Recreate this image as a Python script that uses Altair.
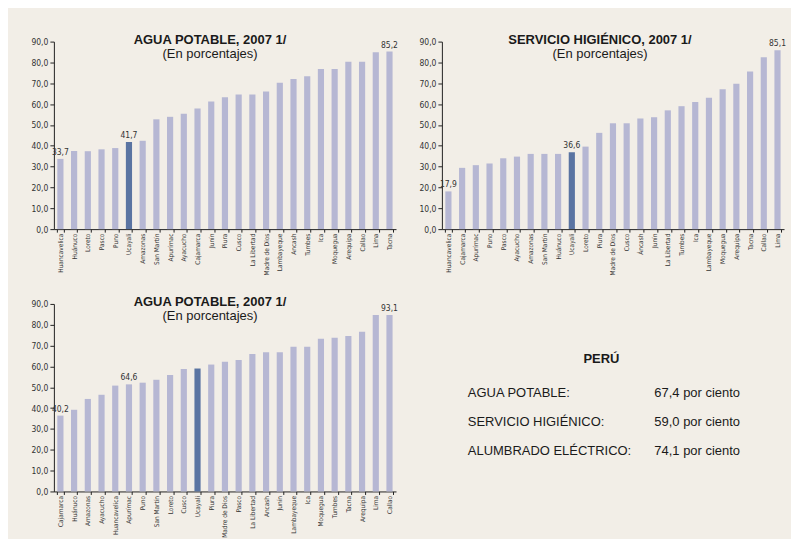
import altair as alt
import pandas as pd

# ---------------- data ----------------
agua_regions = ["Huancavelica", "Huánuco", "Loreto", "Pasco", "Puno", "Ucayali", "Amazonas",
                "San Martín", "Apurímac", "Ayacucho", "Cajamarca", "Junín", "Piura", "Cusco",
                "La Libertad", "Madre de Dios", "Lambayeque", "Ancash", "Tumbes", "Ica",
                "Moquegua", "Arequipa", "Callao", "Lima", "Tacna"]
agua_values = [33.7, 37.5, 37.4, 38.3, 38.9, 41.8, 42.4, 52.7, 53.9, 55.4, 57.9, 61.3, 63.3,
               64.6, 64.6, 66.1, 70.2, 72.1, 73.4, 76.9, 76.9, 80.3, 80.3, 84.9, 85.2]
agua_labels = {"Huancavelica": "33,7", "Ucayali": "41,7", "Tacna": "85,2"}

serv_regions = ["Huancavelica", "Cajamarca", "Apurímac", "Puno", "Pasco", "Ayacucho", "Amazonas",
                "San Martín", "Huánuco", "Ucayali", "Loreto", "Piura", "Madre de Dios", "Cusco",
                "Áncash", "Junín", "La Libertad", "Tumbes", "Ica", "Lambayeque", "Moquegua",
                "Arequipa", "Tacna", "Callao", "Lima"]
serv_values = [18.1, 29.4, 30.7, 31.5, 34.0, 34.8, 36.1, 36.1, 36.1, 36.9, 39.6, 46.2, 50.8,
               50.8, 53.1, 53.7, 57.0, 59.0, 61.0, 63.1, 67.1, 69.8, 75.7, 82.5, 85.8]
serv_labels = {"Huancavelica": "17,9", "Ucayali": "36,6", "Lima": "85,1"}

alum_regions = ["Cajamarca", "Huánuco", "Amazonas", "Ayacucho", "Huancavelica", "Apurímac", "Puno",
                "San Martín", "Loreto", "Cusco", "Ucayali", "Piura", "Madre de Dios", "Pasco",
                "La Libertad", "Ancash", "Junín", "Lambayeque", "Ica", "Moquegua", "Tumbes",
                "Tacna", "Arequipa", "Lima", "Callao"]
alum_values = [36.4, 39.2, 44.4, 46.4, 50.8, 51.4, 52.2, 53.6, 55.9, 58.8, 59.0, 60.9, 62.3,
               63.1, 66.0, 66.8, 66.8, 69.5, 69.5, 73.3, 73.8, 74.6, 76.7, 84.7, 84.7]
alum_labels = {"Cajamarca": "40,2", "Apurímac": "64,6", "Callao": "93,1"}

peru_items = ["AGUA POTABLE:", "SERVICIO HIGIÉNICO:", "ALUMBRADO ELÉCTRICO:"]
peru_values = ["67,4 por ciento", "59,0 por ciento", "74,1 por ciento"]

HIGHLIGHT = "Ucayali"
BG = "#f2eee7"
LIGHT = "#b6b7d3"
DARK = "#5a74a2"
NARROW = "Liberation Sans Narrow, Arial Narrow, DejaVu Sans Condensed, sans-serif"
SANS = "Liberation Sans, Arial, sans-serif"


def bar_panel(regions, values, labels, title, title_dx):
    df = pd.DataFrame({
        "region": regions,
        "value": values,
        "hl": ["h" if r == HIGHLIGHT else "n" for r in regions],
        "label": [labels.get(r, "") for r in regions],
    })
    x = alt.X("region:N", sort=regions, title=None,
              scale=alt.Scale(paddingInner=0.55, paddingOuter=0.25),
              axis=alt.Axis(labelAngle=-90, labelFont=NARROW, labelFontSize=6.5,
                            labelColor="#333333", tickBand="extent", tickSize=3,
                            tickColor="#222222", domainColor="#222222", labelPadding=1))
    y = alt.Y("value:Q", title=None,
              scale=alt.Scale(domain=[0, 90], nice=False),
              axis=alt.Axis(values=list(range(0, 91, 10)), grid=False,
                            labelExpr="replace(format(datum.value, '.1f'), '.', ',')",
                            labelFont=NARROW, labelFontSize=8.5, labelColor="#333333",
                            tickSize=4, tickColor="#222222", domainColor="#222222",
                            labelPadding=2))
    bars = alt.Chart(df).mark_bar().encode(
        x=x, y=y,
        color=alt.Color("hl:N", scale=alt.Scale(domain=["n", "h"], range=[LIGHT, DARK]),
                        legend=None),
    )
    text = alt.Chart(df).transform_filter("datum.label != ''").mark_text(
        baseline="bottom", dy=-2, font=NARROW, fontSize=8.5, color="#333333"
    ).encode(x=x, y=y, text="label:N")
    return alt.layer(bars, text).properties(
        width=343, height=188,
        title=alt.Title(title, subtitle="(En porcentajes)", anchor="middle", dx=title_dx,
                        offset=-23, font=SANS, fontSize=13, fontWeight="bold",
                        color="#1a1a1a", subtitleFont=SANS, subtitleFontSize=13,
                        subtitleColor="#1a1a1a", subtitlePadding=1),
    )


c1 = bar_panel(agua_regions, agua_values, agua_labels, "AGUA POTABLE, 2007 1/", -15)
c2 = bar_panel(serv_regions, serv_values, serv_labels, "SERVICIO HIGIÉNICO, 2007 1/", -13)
c3 = bar_panel(alum_regions, alum_values, alum_labels, "AGUA POTABLE, 2007 1/", -15)

pdf = pd.DataFrame({"item": peru_items, "val": peru_values})
ys = alt.Y("item:N", sort=peru_items, axis=None,
           scale=alt.Scale(type="point", range=[89, 147], padding=0))
t_items = alt.Chart(pdf).mark_text(align="left", baseline="middle", font=SANS,
                                   fontSize=13, color="#1a1a1a").encode(
    x=alt.value(50), y=ys, text="item:N")
t_vals = alt.Chart(pdf).mark_text(align="left", baseline="middle", font=SANS,
                                  fontSize=13, color="#1a1a1a").encode(
    x=alt.value(237), y=ys, text="val:N")
panel = alt.layer(t_items, t_vals).properties(
    width=342, height=188,
    title=alt.Title("PERÚ", anchor="middle", offset=-62, font=SANS, fontSize=13,
                    fontWeight="bold", color="#1a1a1a", dx=13),
)

chart = alt.vconcat(
    alt.hconcat(c1, c2, spacing=20),
    alt.hconcat(c3, panel, spacing=20),
    spacing=21,
).properties(
    background=BG, padding={"left": 22, "top": 25, "right": 5, "bottom": 5}
).configure_view(stroke=None)

chart.save("out.html", embed_options={"renderer": "svg", "actions": False})
